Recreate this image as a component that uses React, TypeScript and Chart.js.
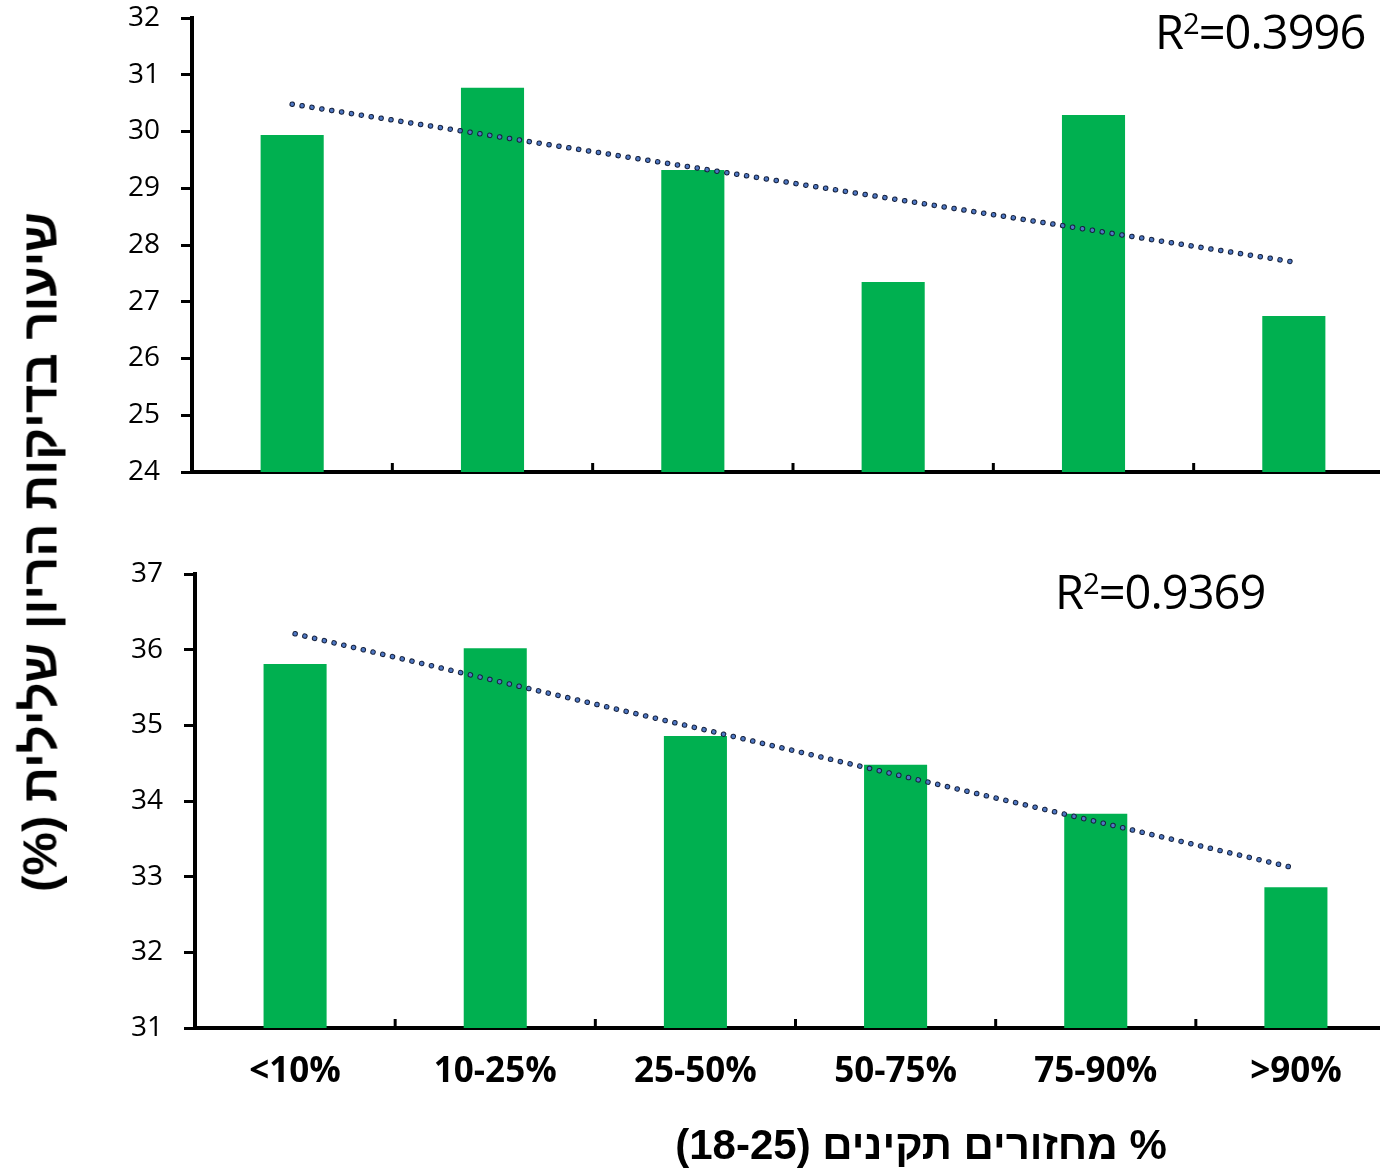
import React, { useEffect, useRef } from "react";
import { Chart, registerables } from "chart.js";

Chart.register(...registerables);

// ---- data ----
const categories = ["<10%", "10-25%", "25-50%", "50-75%", "75-90%", ">90%"];
const topValues = [29.94, 30.77, 29.32, 27.35, 30.29, 26.75];
const topTrend = [30.48, null, null, null, null, 27.7];
const bottomValues = [35.81, 36.02, 34.86, 34.48, 33.83, 32.86];
const bottomTrend = [36.21, null, null, null, null, 33.11];
const topRange = [24, 32];
const bottomRange = [31, 37];
const topR2 = "0.3996";
const bottomR2 = "0.9369";
const yTitle = "שיעור בדיקות הריון שלילית (%)";
const xTitle = "% מחזורים תקינים (18-25)";

const FONT = "'Open Sans', 'Liberation Sans', Arial, sans-serif";
const HEB_FONT = "'Liberation Sans', Arial, sans-serif";
const GREEN = "#00B050";

const innerTicks = {
  id: "innerTicks",
  afterDatasetsDraw(chart: any) {
    const x = chart.scales.x;
    const ctx = chart.ctx;
    const bottom = chart.chartArea.bottom;
    ctx.save();
    ctx.strokeStyle = "#000";
    ctx.lineWidth = 3;
    for (let i = 1; i < x.ticks.length; i++) {
      const p = (x.getPixelForTick(i - 1) + x.getPixelForTick(i)) / 2;
      ctx.beginPath();
      ctx.moveTo(p, bottom);
      ctx.lineTo(p, bottom - 9);
      ctx.stroke();
    }
    ctx.restore();
  },
};

type PanelProps = {
  values: number[];
  trend: (number | null)[];
  range: number[];
  showLabels: boolean;
  yWidth: number;
  width: number;
  height: number;
  top: number;
  padding: { top: number; right: number; bottom: number; left: number };
  xHeight: number;
};

function Panel(p: PanelProps) {
  const ref = useRef<HTMLCanvasElement | null>(null);
  useEffect(() => {
    if (!ref.current) return;
    const chart = new Chart(ref.current, {
      type: "bar",
      data: {
        labels: categories,
        datasets: [
          {
            type: "line",
            data: p.trend as any,
            spanGaps: true,
            pointRadius: 0,
            borderColor: "#4F78C4",
            borderWidth: 3.5,
            borderDash: [0.1, 9.9],
            borderCapStyle: "round",
            order: 0,
          } as any,
          {
            type: "line",
            data: p.trend as any,
            spanGaps: true,
            pointRadius: 0,
            borderColor: "#17233F",
            borderWidth: 5.5,
            borderDash: [0.1, 9.9],
            borderCapStyle: "round",
            order: 1,
          } as any,
          {
            type: "bar",
            data: p.values,
            backgroundColor: GREEN,
            barPercentage: 0.315,
            categoryPercentage: 1,
            order: 2,
          },
        ],
      },
      options: {
        responsive: false,
        animation: false,
        devicePixelRatio: 1,
        layout: { padding: p.padding },
        plugins: { legend: { display: false }, tooltip: { enabled: false } },
        scales: {
          x: {
            type: "category",
            offset: true,
            grid: { display: false, drawTicks: false },
            border: { display: true, color: "#000", width: 4 },
            ticks: {
              display: p.showLabels,
              color: "#000",
              font: { family: FONT, size: 35, weight: "bold" },
              padding: 23,
              maxRotation: 0,
              autoSkip: false,
            },
            afterFit: (s: any) => {
              s.height = p.xHeight;
              s.paddingLeft = 0;
              s.paddingRight = 0;
              s.paddingTop = 0;
              s.paddingBottom = 0;
            },
          },
          y: {
            min: p.range[0],
            max: p.range[1],
            ticks: {
              stepSize: 1,
              color: "#000",
              font: { family: FONT, size: 28 },
              padding: 21,
            },
            grid: {
              display: true,
              drawOnChartArea: false,
              drawTicks: true,
              tickLength: 11,
              tickColor: "#000",
              tickWidth: 3,
            },
            border: { display: true, color: "#000", width: 4 },
            afterFit: (s: any) => {
              s.width = p.yWidth;
              s.paddingTop = 0;
              s.paddingBottom = 0;
              s.paddingLeft = 0;
              s.paddingRight = 0;
            },
          },
        },
      } as any,
      plugins: [innerTicks],
    });
    return () => chart.destroy();
  }, []);
  return (
    <canvas
      ref={ref}
      width={p.width}
      height={p.height}
      style={{ position: "absolute", left: 0, top: p.top, width: p.width, height: p.height }}
    />
  );
}

function R2({ left, top, value }: { left: number; top: number; value: string }) {
  return (
    <div
      style={{
        position: "absolute",
        left,
        top,
        fontFamily: FONT,
        fontSize: 47,
        lineHeight: "47px",
        color: "#000",
        whiteSpace: "nowrap",
        letterSpacing: -1,
      }}
    >
      R<sup style={{ fontSize: "0.62em", lineHeight: 0, verticalAlign: "0.5em" }}>2</sup>={value}
    </div>
  );
}

export default function App() {
  return (
    <div
      style={{
        position: "absolute",
        left: 0,
        top: 0,
        width: 1380,
        height: 1169,
        overflow: "hidden",
        background: "#fff",
      }}
    >
      <Panel
        values={topValues}
        trend={topTrend}
        range={topRange}
        showLabels={false}
        yWidth={192}
        width={1400}
        height={500}
        top={0}
        padding={{ top: 18, right: 6, bottom: 18, left: 0 }}
        xHeight={10}
      />
      <Panel
        values={bottomValues}
        trend={bottomTrend}
        range={bottomRange}
        showLabels={true}
        yWidth={195}
        width={1400}
        height={669}
        top={500}
        padding={{ top: 74, right: 4, bottom: 0, left: 0 }}
        xHeight={141}
      />
      <R2 left={1155} top={8} value={topR2} />
      <R2 left={1055} top={568} value={bottomR2} />
      <div
        dir="rtl"
        style={{
          position: "absolute",
          left: 40,
          top: 552,
          transform: "translate(-50%, -50%) rotate(-90deg)",
          whiteSpace: "nowrap",
          fontFamily: HEB_FONT,
          fontWeight: "bold",
          fontSize: 49,
          lineHeight: "49px",
          color: "#000",
        }}
      >
        {yTitle}
      </div>
      <div
        dir="rtl"
        style={{
          position: "absolute",
          left: 921,
          top: 1145,
          transform: "translate(-50%, -50%)",
          whiteSpace: "nowrap",
          fontFamily: HEB_FONT,
          fontWeight: "bold",
          fontSize: 42,
          lineHeight: "42px",
          color: "#000",
        }}
      >
        {xTitle}
      </div>
    </div>
  );
}
